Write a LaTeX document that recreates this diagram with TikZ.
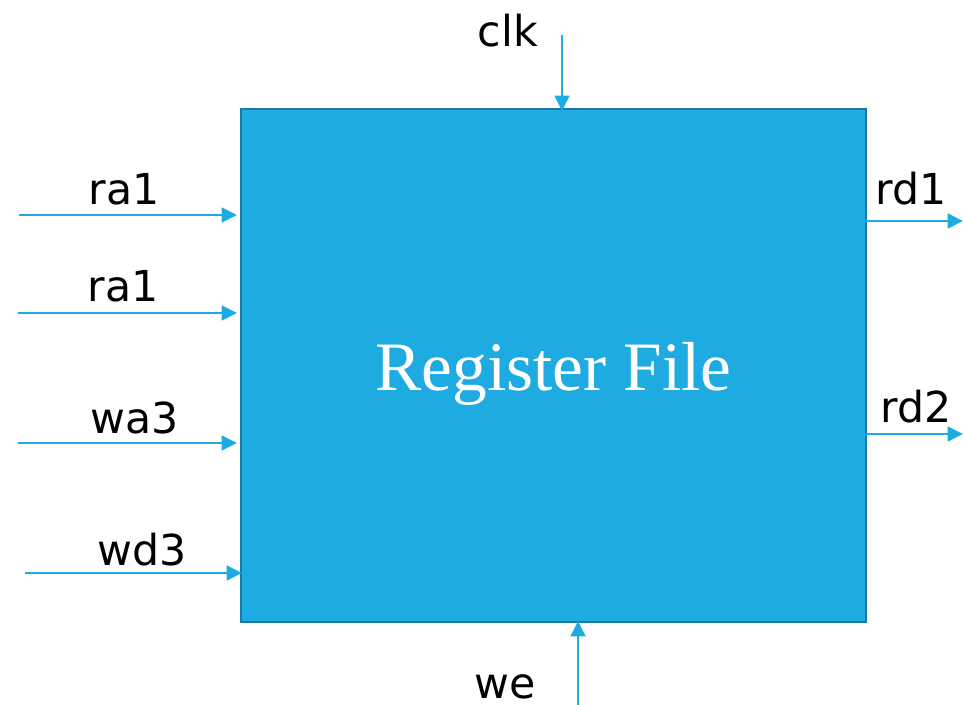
\documentclass[tikz,border=0pt]{standalone}
\usepackage{fontspec}
\setmainfont{DejaVu Sans}
\newfontfamily\serifrf{Liberation Serif}
\usetikzlibrary{arrows.meta}
\definecolor{boxblue}{HTML}{1EABE2}
\definecolor{boxedge}{HTML}{1A7AA6}
\definecolor{wireblue}{HTML}{1EABE2}
\begin{document}
\begin{tikzpicture}[x=0.75pt,y=-0.75pt,
  wire/.style={draw=wireblue,line width=1.9pt,-{Triangle[length=11.5pt,width=11pt]}},
  lbl/.style={anchor=base,inner sep=0pt,font=\fontsize{32}{38}\selectfont,text=black},
  regbox/.style={draw=boxedge,fill=boxblue,line width=1.8pt}]
\useasboundingbox (0,0) rectangle (963,705);
\draw[regbox] (241,109) rectangle (866,622);
\node[anchor=base,inner sep=0pt,text=white,font=\serifrf\fontsize{52}{60}\selectfont] (title) at (553.5,391) {Register File};
% wire end points
\coordinate (ra1s) at (19,215);  \coordinate (ra1e) at (237,215);
\coordinate (ra2s) at (18,313);  \coordinate (ra2e) at (237,313);
\coordinate (wa3s) at (18,443);  \coordinate (wa3e) at (237,443);
\coordinate (wd3s) at (25,573);  \coordinate (wd3e) at (242,573);
\coordinate (rd1s) at (866,221); \coordinate (rd1e) at (963,221);
\coordinate (rd2s) at (866,434); \coordinate (rd2e) at (963,434);
\coordinate (clks) at (562,35);  \coordinate (clke) at (562,111);
\coordinate (wes) at (578,705);  \coordinate (wee) at (578,621);
\draw[wire] (ra1s) -- (ra1e);
\draw[wire] (ra2s) -- (ra2e);
\draw[wire] (wa3s) -- (wa3e);
\draw[wire] (wd3s) -- (wd3e);
\draw[wire] (rd1s) -- (rd1e);
\draw[wire] (rd2s) -- (rd2e);
\draw[wire] (clks) -- (clke);
\draw[wire] (wes) -- (wee);
\node[lbl] (l1) at (124,205) {ra1};
\node[lbl] (l2) at (123,302) {ra1};
\node[lbl] (l3) at (135,433) {wa3};
\node[lbl] (l4) at (142,565) {wd3};
\node[lbl] (l5) at (911,205) {rd1};
\node[lbl] (l6) at (916,423) {rd2};
\node[lbl] (l7) at (508,47) {clk};
\node[lbl] (l8) at (505,698) {we};
\end{tikzpicture}
\end{document}
